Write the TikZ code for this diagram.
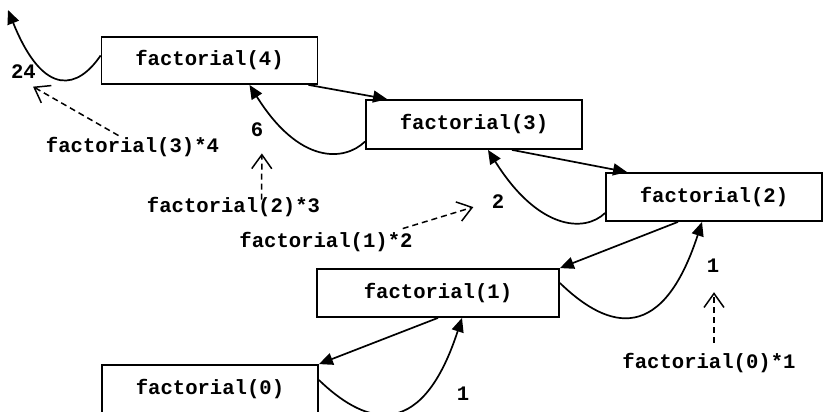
\documentclass[tikz,border=0pt]{standalone}
\usepackage{fontspec}
\setmonofont{Liberation Mono}
\usetikzlibrary{arrows.meta}
\newcommand{\code}{\ttfamily\bfseries\fontsize{20.6}{24}\selectfont}

\begin{document}
\begin{tikzpicture}[x=1pt, y=1pt,
    call/.style={draw, line width=1.8pt, minimum width=216pt, minimum height=48pt, inner sep=0pt, font=\code},
    val/.style={anchor=base, inner sep=2pt, font=\code},
    fwd/.style={line width=1.7pt, -{Triangle[length=14pt,width=12pt]}},
    back/.style={line width=1.5pt, dash pattern=on 6pt off 4pt, -{Straight Barb[length=14pt,width=20pt]}}]
    \useasboundingbox (0,0) rectangle (823,412);
    \clip (0,0) rectangle (823,412);
    \node [call, minimum height=47pt] (f4) at (209.5,351.5) {factorial(4)};
    \node [call, minimum height=49pt] (f3) at (474,287.5) {factorial(3)};
    \node [call] (f2) at (714,215) {factorial(2)};
    \node [call, minimum width=242pt] (f1) at (438,119) {factorial(1)};
    \node [call] (f0) at (210,23) {factorial(0)};
    \coordinate (ret4) at (8,402);

    \node [val] (v24) at (23.5,333) {24};
    \node [val] (l34) at (132.5,259) {factorial(3)*4};
    \node [val] (v6) at (257,275) {6};
    \node [val] (l23) at (233.5,199) {factorial(2)*3};
    \node [val] (l12) at (326,164) {factorial(1)*2};
    \node [val] (v2) at (498,203) {2};
    \node [val] (v1) at (713,139) {1};
    \node [val] (l01) at (709,43) {factorial(0)*1};
    \node [val] (v1b) at (463,11) {1};

    \draw [fwd] ([xshift=-10pt]f4.south east)--([xshift=22pt]f3.north west);
    \draw [fwd] ([xshift=38pt]f3.south)--([xshift=22pt]f2.north west);
    \draw [fwd] ([xshift=-36pt]f2.south)--(f1.north east);
    \draw [fwd] (f1.south)--(f0.north east);

    \draw [fwd] ([yshift=5pt]f4.west) to[out=236, in=292, out distance=39pt, in distance=97pt] (ret4);
    \draw [fwd] ([yshift=-17pt]f3.west) to[out=224, in=302, out distance=29pt, in distance=94pt] ([xshift=40pt]f4.south);
    \draw [fwd] ([yshift=-16pt]f2.west) to[out=224, in=302, out distance=29pt, in distance=94pt] ([xshift=14pt]f3.south);
    \draw [fwd] ([yshift=10pt]f1.east) to[out=316, in=252, out distance=57pt, in distance=138pt] ([xshift=-12pt]f2.south);
    \draw [fwd] ([yshift=9pt]f0.east) to[out=316, in=252, out distance=57pt, in distance=138pt] ([xshift=24pt]f1.south);

    \draw [back, shorten >=11pt] ([xshift=-14pt]l34.north)--(v24.south);
    \draw [back, shorten >=14pt] ([xshift=28pt, yshift=-4pt]l23.north)--([xshift=5pt]v6.south);
    \draw [back, shorten >=17pt] ([xshift=-12pt, yshift=2pt]l12.north east)--(v2.west);
    \draw [back, shorten >=17pt] ([xshift=5pt, yshift=9pt]l01.north)--([xshift=1pt]v1.south);
\end{tikzpicture}
\end{document}
